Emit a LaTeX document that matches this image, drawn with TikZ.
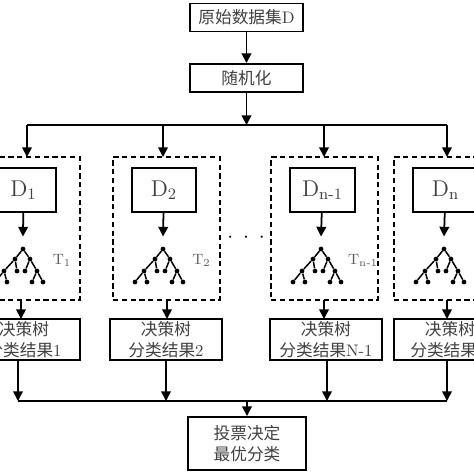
\documentclass[tikz,border=0pt]{standalone}
\usepackage{fontspec}
\newfontfamily\cjk{Noto Sans CJK SC}
\usepackage{tikz}
\usetikzlibrary{arrows.meta}

\tikzset{
    flowbox/.style={draw, line width=1.1pt, inner sep=0pt, align=center, text=black!75,
        font=\cjk\fontsize{9.5}{12.2}\selectfont},
    databox/.style={flowbox, minimum width=1.29cm, minimum height=0.88cm,
        font=\rmfamily\fontsize{13}{15}\selectfont},
    resultbox/.style={flowbox, minimum width=2.24cm, minimum height=0.82cm},
    groupbox/.style={draw, line width=1.1pt, dashed, dash pattern=on 3pt off 2pt,
        minimum width=2.14cm, minimum height=2.86cm, inner sep=0pt},
    leaf/.style={circle, fill, inner sep=0pt, minimum size=0.095cm},
    flow/.style={line width=1pt, -{Triangle[length=5.5pt, width=5.5pt]}},
    bus/.style={line width=1pt},
    treelabel/.style={inner sep=0pt, text=black!65, font=\rmfamily\fontsize{8.5}{10}\selectfont},
    dtree/.pic={
        \node[leaf] (-r) at (0, 0) {};
        \node[leaf] (-a) at (-8, 10) {};
        \node[leaf] (-b) at (7, 10) {};
        \node[leaf] (-c) at (-19, 22) {};
        \node[leaf] (-d) at (-6, 22) {};
        \node[leaf] (-e) at (2, 22) {};
        \node[leaf] (-f) at (14, 22) {};
        \node[leaf] (-g) at (-28, 33) {};
        \node[leaf] (-h) at (-16, 33) {};
        \node[leaf] (-i) at (9, 33) {};
        \node[leaf] (-j) at (20, 33) {};
        \draw[line width=0.85pt] (-a) -- (-r) -- (-b);
        \draw[line width=0.85pt] (-c) -- (-a) -- (-d);
        \draw[line width=0.85pt] (-e) -- (-b) -- (-f);
        \draw[line width=0.85pt] (-g) -- (-c) -- (-h);
        \draw[line width=0.85pt] (-i) -- (-f) -- (-j);
    }
}

\begin{document}
\begin{tikzpicture}[x=0.02cm, y=-0.02cm]

    \useasboundingbox (0, 0) rectangle (474, 474);

    % Top boxes
    \node[flowbox, minimum width=2.26cm, minimum height=0.56cm] (source) at (246.5, 17.5) {原始数据集{\rmfamily D}};
    \node[flowbox, minimum width=2.26cm, minimum height=0.56cm] (shuffle) at (246.5, 78) {随机化};
    \draw[flow] (source) -- (shuffle);

    % Splitting line
    \coordinate (splitmid) at (246.5, 125);
    \coordinate (splitleft) at (27, 125);
    \coordinate (splitright) at (447, 125);
    \draw[flow] (shuffle) -- (splitmid);
    \draw[bus] (splitleft) -- (splitright);

    % Dashed groups
    \foreach \k/\x in {1/26.5, 2/166.5, 3/324.5, 4/447.5} {
        \node[groupbox] (group\k) at (\x, 228.5) {};
    }

    % Sample boxes
    \node[databox] (data1) at (23.5, 190) {D\textsubscript{1}};
    \node[databox] (data2) at (164, 190) {D\textsubscript{2}};
    \node[databox] (data3) at (322.5, 190) {D\textsubscript{n-1}};
    \node[databox] (data4) at (445.5, 190) {D\textsubscript{n}};

    % Trees and arrows into them
    \foreach \k/\x in {1/23, 2/163, 3/321, 4/444} {
        \pic (tree\k) at (\x, 249) {dtree};
        \coordinate (treetop\k) at (\x, 236.5);
        \draw[flow] (data\k) -- (treetop\k);
    }

    % Tree labels
    \node[treelabel] (label1) at (62, 260) {T\textsubscript{1}};
    \node[treelabel] (label2) at (201.5, 260) {T\textsubscript{2}};
    \node[treelabel] (label3) at (363, 260) {T\textsubscript{n-1}};

    % Dots between the groups
    \node[inner sep=0pt, text=black, font=\fontsize{13}{13}\selectfont] (dots) at (246, 237.5) {$\cdot\hspace{3pt}\cdot\hspace{3pt}\cdot$};

    % Result boxes
    \node[resultbox] (result1) at (24, 339.5) {决策树\\分类结果{\rmfamily 1}};
    \node[resultbox] (result2) at (166, 339.5) {决策树\\分类结果{\rmfamily 2}};
    \node[resultbox] (result3) at (326, 339.5) {决策树\\分类结果{\rmfamily N-1}};
    \node[resultbox] (result4) at (450, 339.5) {决策树\\分类结果{\rmfamily N}};

    % Arrows in and out of the groups
    \foreach \k/\x/\xa/\xb in {1/27/21/18, 2/163/167/166, 3/324/324/327, 4/447/447/447} {
        \coordinate (enter\k) at (\x, 125);
        \draw[flow] (enter\k) -- (\x, 157);
        \coordinate (leave\k) at (\xa, 300);
        \draw[flow] (leave\k) -- (\xa, 319);
        \coordinate (drop\k) at (\xb, 360);
        \coordinate (merge\k) at (\xb, 401);
        \draw[flow] (drop\k) -- (merge\k);
    }

    % Merging line and last box
    \draw[bus] (merge1) -- (merge4);
    \node[flowbox, minimum width=2.36cm, minimum height=1.06cm] (vote) at (247, 443.5) {投票决定\\最优分类};
    \coordinate (mergemid) at (247, 401);
    \draw[flow] (mergemid) -- (vote);

\end{tikzpicture}
\end{document}
